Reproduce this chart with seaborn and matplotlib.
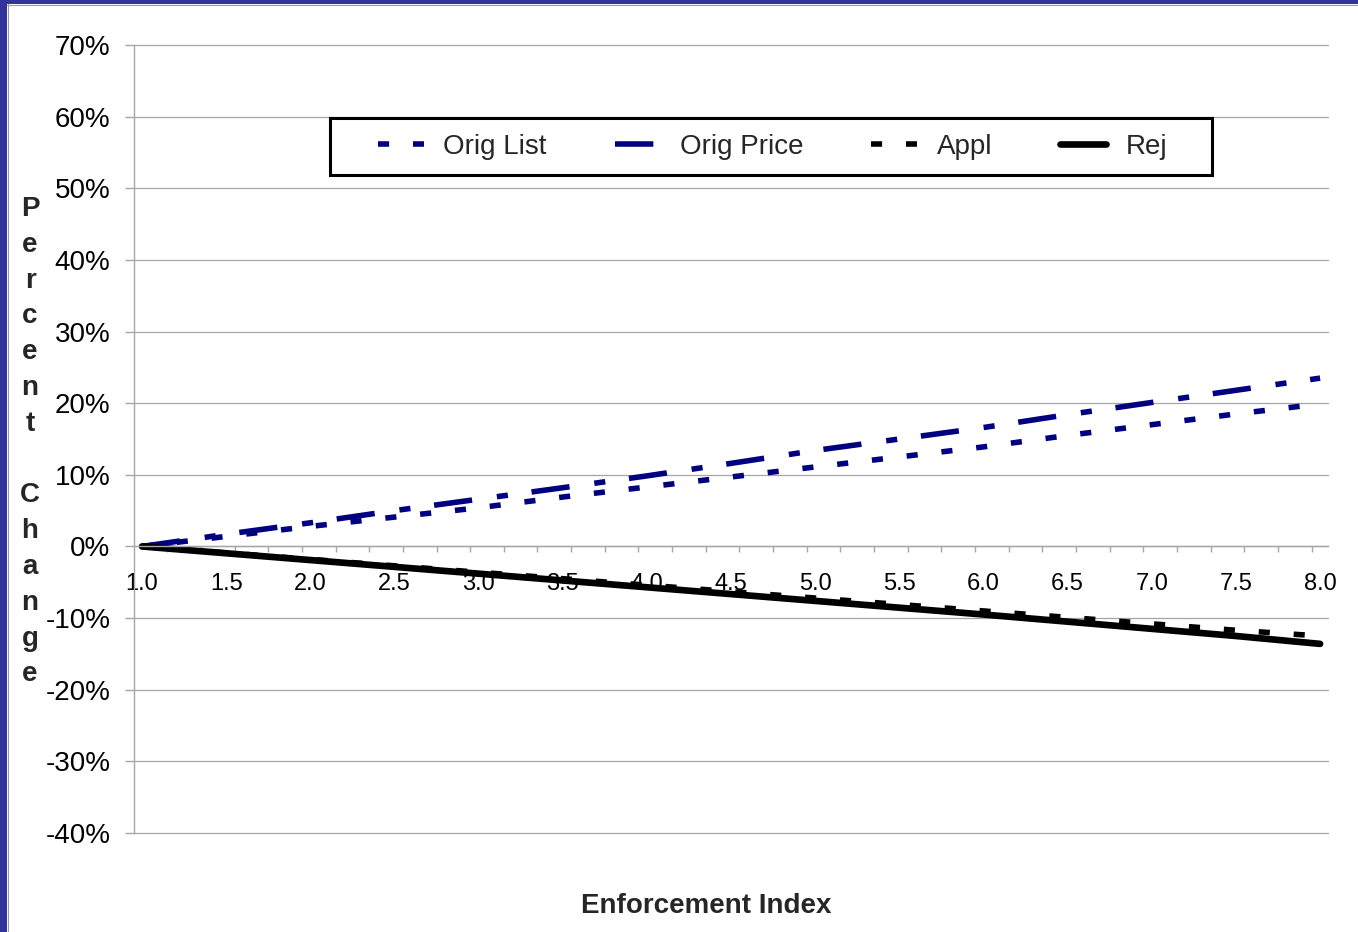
import numpy as np
import pandas as pd
import matplotlib
matplotlib.use("Agg")
import matplotlib.pyplot as plt
from matplotlib.patches import Rectangle
from matplotlib.ticker import FuncFormatter
import seaborn as sns

# Enforcement index values and percent changes of each series
enforcement_index = [1.0, 1.5, 2.0, 2.5, 3.0, 3.5, 4.0, 4.5, 5.0, 5.5, 6.0, 6.5, 7.0, 7.5, 8.0]
orig_list = [0.0, 1.4, 2.8, 4.1, 5.4, 6.9, 8.3, 9.7, 11.1, 12.5, 13.9, 15.5, 17.0, 18.5, 19.9]
orig_price = [0.0, 1.7, 3.3, 5.0, 6.6, 8.2, 9.85, 11.6, 13.4, 15.0, 16.6, 18.4, 20.1, 21.8, 23.5]
appl = [0.0, -0.9, -1.8, -2.7, -3.6, -4.5, -5.4, -6.3, -7.2, -8.1, -9.0, -9.9, -10.8, -11.7, -12.5]
rej = [0.0, -0.95, -1.9, -2.85, -3.8, -4.75, -5.7, -6.65, -7.6, -8.55, -9.5, -10.5, -11.5, -12.5, -13.6]

series_names = ["Orig List", "Orig Price", "Appl", "Rej"]
y_ticks = [-40, -30, -20, -10, 0, 10, 20, 30, 40, 50, 60, 70]
x_ticks = [1.0, 1.5, 2.0, 2.5, 3.0, 3.5, 4.0, 4.5, 5.0, 5.5, 6.0, 6.5, 7.0, 7.5, 8.0]

sns.set_style("white")
plt.rcParams["font.family"] = ["Liberation Sans", "DejaVu Sans"]
plt.rcParams["axes.unicode_minus"] = False

W, H = 1358, 932
fig = plt.figure(figsize=(W / 100, H / 100), dpi=100)
fig.patch.set_facecolor("white")

# slide border strips
fig.add_artist(Rectangle((0, 0), 7 / W, 1, transform=fig.transFigure,
                         facecolor="#333399", edgecolor="none", zorder=0))
fig.add_artist(Rectangle((0, 1 - 4 / H), 1, 4 / H, transform=fig.transFigure,
                         facecolor="#333399", edgecolor="none", zorder=0))
fig.add_artist(plt.Line2D([7.5 / W, 7.5 / W], [0, 1 - 4 / H], transform=fig.transFigure,
                          color="#9a9aa8", lw=0.8))
fig.add_artist(plt.Line2D([7 / W, 1], [1 - 4.5 / H, 1 - 4.5 / H], transform=fig.transFigure,
                          color="#9a9aa8", lw=0.8))

ax = fig.add_axes([134 / W, 99 / H, 1194 / W, 788 / H])

df = pd.DataFrame({"x": enforcement_index, "Orig List": orig_list,
                   "Orig Price": orig_price, "Appl": appl, "Rej": rej})

navy = "#000080"
styles = {
    "Orig List": dict(color=navy, lw=4.0, linestyle=(0, (2.0, 4.3))),
    "Orig Price": dict(color=navy, lw=4.0, linestyle=(0, (6.9, 4.5, 2.0, 4.3))),
    "Appl": dict(color="black", lw=4.0, linestyle=(0, (2.0, 4.3))),
    "Rej": dict(color="black", lw=4.8, linestyle="-", solid_capstyle="round"),
}
for name in series_names:
    sns.lineplot(data=df, x="x", y=name, ax=ax, label=name, **styles[name])

ax.set_xlim(0.9525, 8.047)
ax.set_ylim(-40, 70)
ax.set_yticks(y_ticks)
ax.yaxis.set_major_formatter(FuncFormatter(lambda v, p: f"{v:.0f}%"))
ax.set_xticks(x_ticks)
ax.xaxis.set_major_formatter(FuncFormatter(lambda v, p: f"{v:.1f}"))
ax.set_xticks(np.arange(1.15, 8.0, 0.2), minor=True)

grid_c = "#a6a6a6"
ax.grid(axis="y", color=grid_c, lw=0.9)
ax.grid(axis="x", visible=False)
for gl in ax.get_ygridlines():
    gl.set_clip_on(False)
for s in ["top", "right"]:
    ax.spines[s].set_visible(False)
ax.spines["left"].set_color(grid_c)
ax.spines["left"].set_linewidth(1.0)
ax.spines["bottom"].set_position(("data", 0))
ax.spines["bottom"].set_color(grid_c)
ax.spines["bottom"].set_linewidth(1.0)

ax.tick_params(axis="y", which="major", direction="out", length=6.5, width=1.0,
               color=grid_c, labelsize=20, pad=10.5, labelcolor="black", left=True)
ax.tick_params(axis="x", which="major", length=0, labelsize=17, pad=19, labelcolor="black",
               bottom=True)
ax.tick_params(axis="x", which="minor", direction="out", length=4.5, width=1.0,
               color=grid_c, bottom=True)
ax.set_xlabel("")
ax.set_ylabel("")

# legend with a separate square frame
frame = Rectangle((330 / W, 1 - 175 / H), 882 / W, 57 / H, transform=fig.transFigure,
                  facecolor="white", edgecolor="black", lw=2.2, zorder=4, clip_on=False)
ax.add_patch(frame)
leg = ax.legend(loc="center", bbox_to_anchor=(772.5 / W, 1 - 146.5 / H),
                bbox_transform=fig.transFigure, ncol=4, frameon=False, fontsize=20,
                handlelength=1.65, handletextpad=0.7, columnspacing=2.45)
leg.set_zorder(5)

# vertical stacked axis title
ylabel = "Percent Change"
for i, ch in enumerate(ylabel):
    if ch == " ":
        continue
    fig.text(30 / W, 1 - (216 + 35.8 * i) / H, ch, ha="center", va="baseline",
             fontsize=20, fontweight="bold")

fig.text(706 / W, 1 - 906 / H, "Enforcement Index", ha="center", va="center",
         fontsize=20, fontweight="bold")

fig.savefig("out.png", dpi=100)
